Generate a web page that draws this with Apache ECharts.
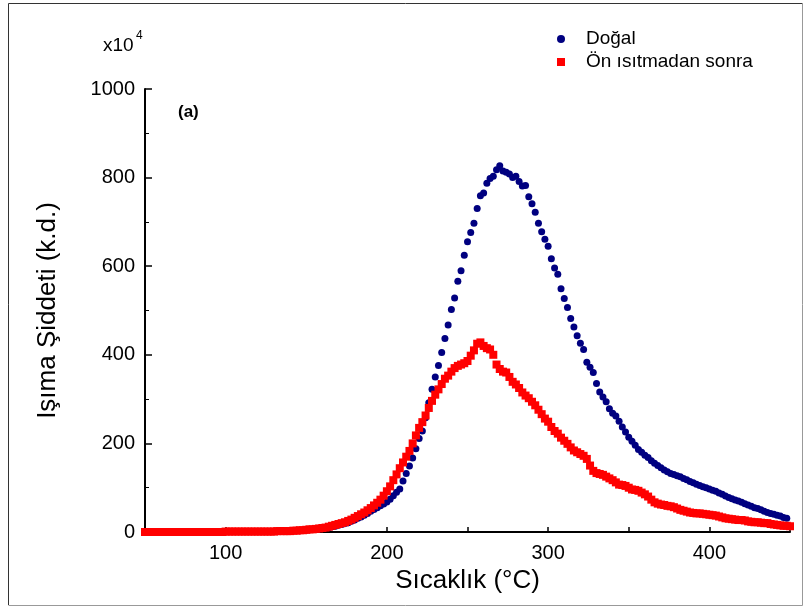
<!DOCTYPE html>
<html>
<head>
<meta charset="utf-8">
<script src="https://cdn.jsdelivr.net/npm/echarts@6/dist/echarts.min.js"></script>
<style>
  html, body { margin: 0; padding: 0; background: #fff; }
  #main { width: 804px; height: 608px; }
</style>
</head>
<body>
<div id="main"></div>
<script>
// sıcaklık (°C), 2 derece adımla okunan noktalar
var temps = [
   50, 52, 54, 56, 58, 60, 62, 64, 66, 68,
   70, 72, 74, 76, 78, 80, 82, 84, 86, 88,
   90, 92, 94, 96, 98,100,102,104,106,108,
  110,112,114,116,118,120,122,124,126,128,
  130,132,134,136,138,140,142,144,146,148,
  150,152,154,156,158,160,162,164,166,168,
  170,172,174,176,178,180,182,184,186,188,
  190,192,194,196,198,200,202,204,206,208,
  210,212,214,216,218,220,222,224,226,228,
  230,232,234,236,238,240,242,244,246,248,
  250,252,254,256,258,260,262,264,266,268,
  270,272,274,276,278,280,282,284,286,288,
  290,292,294,296,298,300,302,304,306,308,
  310,312,314,316,318,320,322,324,326,328,
  330,332,334,336,338,340,342,344,346,348,
  350,352,354,356,358,360,362,364,366,368,
  370,372,374,376,378,380,382,384,386,388,
  390,392,394,396,398,400,402,404,406,408,
  410,412,414,416,418,420,422,424,426,428,
  430,432,434,436,438,440,442,444,446,448,
  450
];

// Doğal (x10^4)
var dogal = [
    0,  0,  0,  0,  0,  0,  0,  0,  0,  0,
    0,  0,  0,  0,  0,  0,  0,  0,  0,  0,
    0,  0,  0,  0,  0,  1,  1,  1,  1,  1,
    1,  1,  1,  1,  1,  1,  1,  1,  1,  1,
    1,  2,  2,  2,  2,  2,  3,  3,  3,  4,
    4,  5,  6,  6,  7,  8,  9, 10, 12, 13,
   15, 17, 19, 21, 24, 27, 31, 34, 38, 42,
   47, 51, 55, 59, 63, 68, 74, 82, 90, 97,
  115,132,149,167,188,211,228,258,292,322,
  350,376,405,437,467,502,528,566,590,625,
  655,676,697,730,759,765,787,798,803,818,
  827,815,812,808,800,803,791,781,782,757,
  741,722,697,678,661,645,617,596,582,549,
  527,507,482,463,443,426,412,383,372,360,
  335,316,305,294,278,268,262,250,237,226,
  214,205,196,186,180,173,168,161,155,150,
  145,140,136,132,130,127,125,121,118,114,
  111,108,105,102,100, 97, 94, 92, 88, 85,
   81, 78, 75, 72, 70, 67, 64, 61, 58, 55,
   53, 50, 47, 44, 42, 40, 38, 36, 33, 31,
  null
];

// Ön ısıtmadan sonra (x10^4)
var onIsitma = [
    0,  0,  0,  0,  0,  0,  0,  0,  0,  0,
    0,  0,  0,  0,  0,  0,  0,  0,  0,  0,
    0,  0,  0,  0,  0,  1,  1,  1,  1,  1,
    1,  1,  1,  1,  1,  1,  1,  1,  1,  1,
    1,  2,  2,  2,  2,  2,  3,  3,  4,  4,
    5,  6,  6,  7,  8,  9, 10, 12, 14, 16,
   18, 20, 22, 25, 28, 32, 36, 40, 44, 49,
   54, 60, 66, 73, 82, 92,103,117,130,144,
  157,170,183,200,218,235,248,263,280,296,
  310,322,334,346,353,362,370,375,378,381,
  386,398,410,425,428,420,415,412,400,378,
  368,362,360,350,339,333,325,315,308,302,
  294,286,276,266,256,249,237,228,222,213,
  206,199,191,184,180,176,172,165,150,138,
  133,131,129,125,121,117,112,107,106,104,
  100, 96, 95, 93, 89, 85, 80, 73, 67, 64,
   62, 61, 59, 58, 56, 53, 50, 48, 46, 44,
   43, 42, 42, 41, 40, 39, 38, 37, 35, 33,
   31, 30, 29, 28, 27, 27, 26, 24, 23, 22,
   22, 21, 20, 20, 18, 17, 16, 15, 14, 14,
   13
];

var xTickLabels = [100, 200, 300, 400];
var yTickLabels = [0, 200, 400, 600, 800, 1000];

var FONT = 'Liberation Sans';

function pairs(values) {
    return temps.map(function (t, i) { return [t, values[i]]; });
}

var chart = echarts.init(document.getElementById('main'), null, { renderer: 'canvas' });

var option = {
    animation: false,
    backgroundColor: '#fff',
    textStyle: { fontFamily: FONT, color: '#000' },
    grid: { left: 145, right: 14, top: 89, bottom: 76 },
    legend: {
        orient: 'vertical',
        left: 552,
        top: 24,
        itemWidth: 8,
        itemHeight: 8,
        itemGap: 3,
        data: ['Doğal', 'Ön ısıtmadan sonra'],
        textStyle: { fontFamily: FONT, fontSize: 19, color: '#000', lineHeight: 20, padding: [0, 0, 0, 16] }
    },
    xAxis: {
        type: 'value',
        min: 50,
        max: 450,
        interval: 50,
        name: 'Sıcaklık (°C)',
        nameLocation: 'middle',
        nameGap: 32,
        nameTextStyle: { fontFamily: FONT, fontSize: 26, color: '#000' },
        axisLine: { show: true, onZero: false, lineStyle: { color: '#000', width: 2 } },
        axisTick: { show: true, inside: true, length: 5, lineStyle: { color: '#000', width: 1.5 } },
        axisLabel: {
            fontFamily: FONT, fontSize: 20, color: '#000', margin: 11,
            formatter: function (v) { return xTickLabels.indexOf(v) >= 0 ? String(v) : ''; }
        },
        splitLine: { show: false }
    },
    yAxis: {
        type: 'value',
        min: 0,
        max: 1000,
        interval: 200,
        name: 'Işıma Şiddeti (k.d.)',
        nameLocation: 'middle',
        nameGap: 84,
        nameRotate: 90,
        nameTextStyle: { fontFamily: FONT, fontSize: 26, color: '#000' },
        axisLine: { show: true, lineStyle: { color: '#000', width: 2 } },
        axisTick: { show: true, inside: true, length: 7, lineStyle: { color: '#000', width: 1.5 } },
        minorTick: { show: true, splitNumber: 2, length: 4, lineStyle: { color: '#000', width: 1 } },
        axisLabel: {
            fontFamily: FONT, fontSize: 20, color: '#000', margin: 10,
            formatter: function (v) { return yTickLabels.indexOf(v) >= 0 ? String(v) : ''; }
        },
        splitLine: { show: false }
    },
    graphic: [
        { type: 'polyline', silent: true, shape: { points: [[8.5, 605], [8.5, 3.5], [802.5, 3.5]] },
          style: { stroke: '#333', lineWidth: 1, fill: null } },
        { type: 'polyline', silent: true, shape: { points: [[8.5, 605.5], [802.5, 605.5], [802.5, 3.5]] },
          style: { stroke: '#999', lineWidth: 1, fill: null } },
        { type: 'text', left: 103, top: 36,
          style: { text: 'x10', fontFamily: FONT, fontSize: 19, fill: '#000' } },
        { type: 'text', left: 136, top: 30,
          style: { text: '4', fontFamily: FONT, fontSize: 12, fill: '#000' } },
        { type: 'text', left: 178, top: 104,
          style: { text: '(a)', fontFamily: FONT, fontSize: 17, fontWeight: 'bold', fill: '#000' } }
    ],
    series: [
        {
            name: 'Doğal',
            type: 'scatter',
            symbol: 'circle',
            symbolSize: 7,
            itemStyle: { color: '#000080', opacity: 1 },
            data: pairs(dogal)
        },
        {
            name: 'Ön ısıtmadan sonra',
            type: 'scatter',
            symbol: 'rect',
            symbolSize: 8,
            itemStyle: { color: '#ff0000', opacity: 1 },
            data: pairs(onIsitma)
        }
    ]
};

chart.setOption(option);
</script>
</body>
</html>
